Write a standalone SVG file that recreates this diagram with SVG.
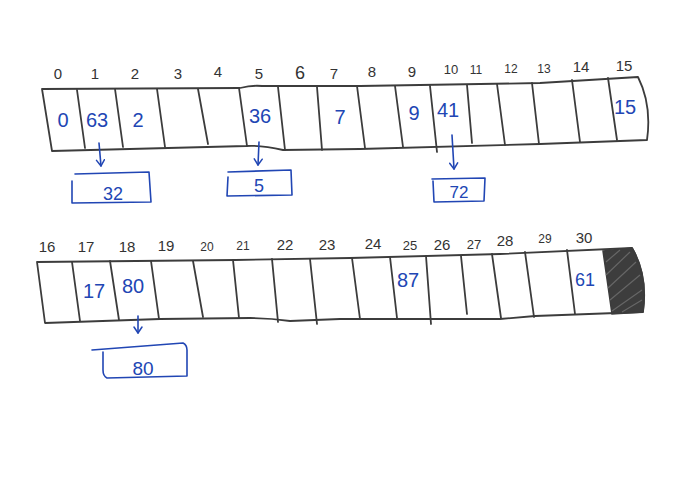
<svg xmlns="http://www.w3.org/2000/svg" width="698" height="483" viewBox="0 0 698 483">
<defs>
<style>
.ln{fill:none;stroke:#3c3c3c;stroke-width:1.8;stroke-linecap:round;stroke-linejoin:round}
.bl{fill:none;stroke:#2146b4;stroke-width:1.6;stroke-linecap:round;stroke-linejoin:round}
.idx{font-family:"Liberation Sans",Arial,sans-serif;font-size:15px;fill:#333;text-anchor:middle}
.val{font-family:"Liberation Sans",Arial,sans-serif;font-size:20px;fill:#2146b4;text-anchor:middle}
</style>
<marker id="ah" viewBox="0 0 10 10" refX="8" refY="5" markerWidth="10" markerHeight="10" markerUnits="userSpaceOnUse" orient="auto">
<polyline points="2,1 8,5 2,9" fill="none" stroke="#2146b4" stroke-width="1.5" stroke-linecap="round" stroke-linejoin="round"/>
</marker>
</defs>
<rect width="698" height="483" fill="#fff"/>

<g id="table-row1">
<path class="ln" d="M42,89 L240,88 Q252,85 262,86 L360,86 L540,83 L638,77 Q652,105 647,140 L540,144 L360,149 L283,150 Q262,145 246,146 L52,151 Z"/>
<path class="ln" d="M77,90 L85,148 M115,89 L123,147 M157,89 L165,147 M198,89 L208,144 M239,88 L247,146 M278,87 L285,150 M317,87 L322,150 M357,86 L365,148 M395,86 L403,147 M430,86 L437,152 M467,85 L472,143 M497,84 L505,145 M532,83 L539,144 M572,80 L580,142 M608,78 L617,140"/>
</g>
<g id="labels-row1">
<text class="idx" x="58" y="79">0</text>
<text class="idx" x="95" y="79">1</text>
<text class="idx" x="135" y="79">2</text>
<text class="idx" x="178" y="79">3</text>
<text class="idx" x="218" y="77">4</text>
<text class="idx" x="259" y="79">5</text>
<text class="idx" x="300" y="79" style="font-size:18px">6</text>
<text class="idx" x="334" y="79">7</text>
<text class="idx" x="372" y="77">8</text>
<text class="idx" x="412" y="77">9</text>
<text class="idx" x="451" y="74" style="font-size:13px">10</text>
<text class="idx" x="476" y="74" style="font-size:12px">11</text>
<text class="idx" x="511" y="73" style="font-size:12px">12</text>
<text class="idx" x="544" y="73" style="font-size:12px">13</text>
<text class="idx" x="581" y="72">14</text>
<text class="idx" x="624" y="71">15</text>
</g>
<g id="cell-0"><text class="val" x="63" y="127">0</text></g>
<g id="cell-1"><text class="val" x="97" y="127">63</text></g>
<g id="cell-2"><text class="val" x="138" y="127">2</text></g>
<g id="cell-5"><text class="val" x="260" y="123">36</text></g>
<g id="cell-7"><text class="val" x="340" y="124">7</text></g>
<g id="cell-9"><text class="val" x="414" y="120">9</text></g>
<g id="cell-10"><text class="val" x="448" y="117">41</text></g>
<g id="cell-15"><text class="val" x="625" y="114">15</text></g>

<g id="chain-32">
<path class="bl" d="M75,174 L149,172 L151,202 L72,203 L72,181"/>
<text class="val" x="113" y="200" style="font-size:18px">32</text>
</g>
<g id="chain-5">
<path class="bl" d="M228,172 L291,170 L292,195 L227,196 L228,177"/>
<text class="val" x="259" y="192" style="font-size:18px">5</text>
</g>
<g id="chain-72">
<path class="bl" d="M432,179 L485,178 L484,201 L434,202 L433,181"/>
<text class="val" x="459" y="198" style="font-size:17px">72</text>
</g>

<g id="table-row2">
<path class="ln" d="M37,262 L235,260 L350,258 L500,254 L632,248 Q648,275 643,312 L535,316 L500,319 L340,319 L290,321 Q270,318 250,318 L160,319 L45,323 Z"/>
<path class="ln" d="M72,262 L80,321 M110,261 L119,320 M151,261 L159,319 M193,261 L203,317 M233,260 L239,318 M272,259 L278,322 M310,259 L317,324 M352,258 L360,319 M390,257 L397,318 M426,256 L431,324 M461,256 L467,314 M492,254 L501,318 M525,252 L534,317 M567,250 L575,314"/>
</g>
<g id="labels-row2">
<text class="idx" x="47" y="252">16</text>
<text class="idx" x="86" y="252">17</text>
<text class="idx" x="127" y="252">18</text>
<text class="idx" x="166" y="251">19</text>
<text class="idx" x="207" y="251" style="font-size:12px">20</text>
<text class="idx" x="243" y="250" style="font-size:12px">21</text>
<text class="idx" x="285" y="250">22</text>
<text class="idx" x="327" y="250">23</text>
<text class="idx" x="373" y="249">24</text>
<text class="idx" x="410" y="250" style="font-size:13px">25</text>
<text class="idx" x="442" y="250">26</text>
<text class="idx" x="474" y="249" style="font-size:13px">27</text>
<text class="idx" x="505" y="246">28</text>
<text class="idx" x="545" y="243" style="font-size:12px">29</text>
<text class="idx" x="584" y="243">30</text>
</g>
<g id="cell-17"><text class="val" x="94" y="298">17</text></g>
<g id="cell-18"><text class="val" x="133" y="293">80</text></g>
<g id="cell-25"><text class="val" x="408" y="287">87</text></g>
<g id="cell-30"><text class="val" x="585" y="286" style="font-size:18px">61</text></g>
<g id="cell-31">
<path d="M603,251 L632,248 Q648,275 643,312 L612,314 Z" fill="#3d3d3d" stroke="#3c3c3c" stroke-width="1.5"/>
<path d="M606,262 L620,250 M606,275 L630,252 M608,288 L636,262 M610,300 L640,275 M612,311 L642,290 M622,312 L642,300" stroke="#666" stroke-width="1.2" fill="none"/>
</g>

<g id="chain-80">
<path class="bl" d="M92,350 L183,343 Q187,345 187,350 L187,376 L107,378 Q103,376 103,370 L103,352"/>
<text class="val" x="143" y="375" style="font-size:19px">80</text>
</g>

<g id="connectors">
<path class="bl" d="M99,143 L101,166" marker-end="url(#ah)"/>
<path class="bl" d="M259,142 L258,165" marker-end="url(#ah)"/>
<path class="bl" d="M452,135 L454,169" marker-end="url(#ah)"/>
<path class="bl" d="M138,316 L138,333" marker-end="url(#ah)"/>
</g>
</svg>
